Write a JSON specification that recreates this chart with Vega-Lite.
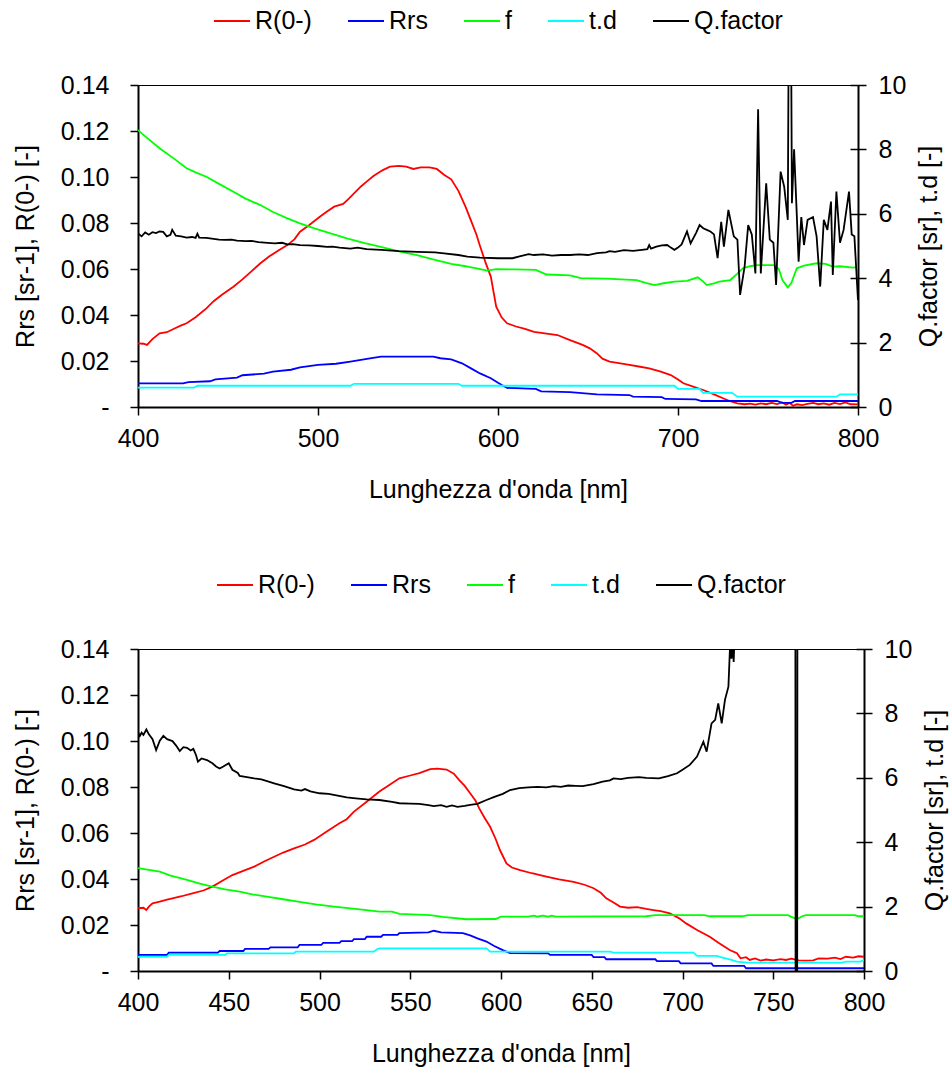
{
"$schema":"https://vega.github.io/schema/vega-lite/v6.json",
"padding":{"left":12,"top":1,"right":0,"bottom":0},
"datasets":{
"top":[
{"s":"R(0-)","x":400,"v":0.0277},{"s":"R(0-)","x":403,"v":0.0275},{"s":"R(0-)","x":405,"v":0.027},{"s":"R(0-)","x":408,"v":0.0295},{"s":"R(0-)","x":412,"v":0.032},{"s":"R(0-)","x":416,"v":0.0325},{"s":"R(0-)","x":420,"v":0.034},{"s":"R(0-)","x":424,"v":0.0355},{"s":"R(0-)","x":427,"v":0.0364},{"s":"R(0-)","x":432,"v":0.039},{"s":"R(0-)","x":438,"v":0.0429},{"s":"R(0-)","x":442,"v":0.046},{"s":"R(0-)","x":447,"v":0.049},{"s":"R(0-)","x":453,"v":0.0523},{"s":"R(0-)","x":458,"v":0.0555},{"s":"R(0-)","x":463,"v":0.059},{"s":"R(0-)","x":468,"v":0.0625},{"s":"R(0-)","x":473,"v":0.0655},{"s":"R(0-)","x":478,"v":0.068},{"s":"R(0-)","x":483,"v":0.0704},{"s":"R(0-)","x":487,"v":0.073},{"s":"R(0-)","x":490,"v":0.0762},{"s":"R(0-)","x":495,"v":0.079},{"s":"R(0-)","x":501,"v":0.0827},{"s":"R(0-)","x":505,"v":0.085},{"s":"R(0-)","x":509,"v":0.0871},{"s":"R(0-)","x":514,"v":0.0883},{"s":"R(0-)","x":517,"v":0.0905},{"s":"R(0-)","x":520,"v":0.0929},{"s":"R(0-)","x":524,"v":0.096},{"s":"R(0-)","x":527,"v":0.098},{"s":"R(0-)","x":531,"v":0.1005},{"s":"R(0-)","x":536,"v":0.103},{"s":"R(0-)","x":540,"v":0.1045},{"s":"R(0-)","x":545,"v":0.1048},{"s":"R(0-)","x":549,"v":0.1045},{"s":"R(0-)","x":553,"v":0.1035},{"s":"R(0-)","x":557,"v":0.1042},{"s":"R(0-)","x":562,"v":0.1042},{"s":"R(0-)","x":566,"v":0.1035},{"s":"R(0-)","x":570,"v":0.101},{"s":"R(0-)","x":574,"v":0.099},{"s":"R(0-)","x":578,"v":0.094},{"s":"R(0-)","x":582,"v":0.087},{"s":"R(0-)","x":585,"v":0.081},{"s":"R(0-)","x":588,"v":0.075},{"s":"R(0-)","x":590,"v":0.07},{"s":"R(0-)","x":593,"v":0.063},{"s":"R(0-)","x":596,"v":0.0567},{"s":"R(0-)","x":599,"v":0.0436},{"s":"R(0-)","x":602,"v":0.039},{"s":"R(0-)","x":605,"v":0.0364},{"s":"R(0-)","x":610,"v":0.035},{"s":"R(0-)","x":615,"v":0.034},{"s":"R(0-)","x":620,"v":0.0327},{"s":"R(0-)","x":626,"v":0.032},{"s":"R(0-)","x":633,"v":0.0313},{"s":"R(0-)","x":640,"v":0.0291},{"s":"R(0-)","x":647,"v":0.027},{"s":"R(0-)","x":651,"v":0.0255},{"s":"R(0-)","x":655,"v":0.0233},{"s":"R(0-)","x":658,"v":0.021},{"s":"R(0-)","x":662,"v":0.0197},{"s":"R(0-)","x":668,"v":0.019},{"s":"R(0-)","x":673,"v":0.0183},{"s":"R(0-)","x":679,"v":0.0175},{"s":"R(0-)","x":684,"v":0.0168},{"s":"R(0-)","x":690,"v":0.0155},{"s":"R(0-)","x":696,"v":0.0139},{"s":"R(0-)","x":700,"v":0.012},{"s":"R(0-)","x":703,"v":0.0103},{"s":"R(0-)","x":708,"v":0.009},{"s":"R(0-)","x":714,"v":0.0074},{"s":"R(0-)","x":720,"v":0.0055},{"s":"R(0-)","x":725,"v":0.0038},{"s":"R(0-)","x":729,"v":0.0025},{"s":"R(0-)","x":733,"v":0.0016},{"s":"R(0-)","x":737,"v":0.0012},{"s":"R(0-)","x":740,"v":0.0015},{"s":"R(0-)","x":743,"v":0.001},{"s":"R(0-)","x":746,"v":0.0016},{"s":"R(0-)","x":749,"v":0.0012},{"s":"R(0-)","x":752,"v":0.0018},{"s":"R(0-)","x":755,"v":0.0013},{"s":"R(0-)","x":758,"v":0.002},{"s":"R(0-)","x":760,"v":0.001},{"s":"R(0-)","x":762,"v":0.0018},{"s":"R(0-)","x":764,"v":0.0005},{"s":"R(0-)","x":766,"v":0.0012},{"s":"R(0-)","x":769,"v":0.0008},{"s":"R(0-)","x":772,"v":0.0014},{"s":"R(0-)","x":775,"v":0.0018},{"s":"R(0-)","x":778,"v":0.0012},{"s":"R(0-)","x":781,"v":0.0016},{"s":"R(0-)","x":784,"v":0.001},{"s":"R(0-)","x":787,"v":0.0018},{"s":"R(0-)","x":790,"v":0.0013},{"s":"R(0-)","x":793,"v":0.002},{"s":"R(0-)","x":796,"v":0.0012},{"s":"R(0-)","x":800,"v":0.0011},
{"s":"Rrs","x":400,"v":0.0103},{"s":"Rrs","x":425,"v":0.0103},{"s":"Rrs","x":428,"v":0.0108},{"s":"Rrs","x":440,"v":0.0112},{"s":"Rrs","x":443,"v":0.012},{"s":"Rrs","x":455,"v":0.0128},{"s":"Rrs","x":458,"v":0.0138},{"s":"Rrs","x":470,"v":0.0145},{"s":"Rrs","x":475,"v":0.0154},{"s":"Rrs","x":485,"v":0.0162},{"s":"Rrs","x":490,"v":0.0172},{"s":"Rrs","x":500,"v":0.0183},{"s":"Rrs","x":510,"v":0.0188},{"s":"Rrs","x":518,"v":0.0197},{"s":"Rrs","x":528,"v":0.021},{"s":"Rrs","x":535,"v":0.0219},{"s":"Rrs","x":564,"v":0.0219},{"s":"Rrs","x":568,"v":0.0212},{"s":"Rrs","x":574,"v":0.0207},{"s":"Rrs","x":580,"v":0.019},{"s":"Rrs","x":585,"v":0.0168},{"s":"Rrs","x":590,"v":0.0146},{"s":"Rrs","x":596,"v":0.0125},{"s":"Rrs","x":600,"v":0.0105},{"s":"Rrs","x":605,"v":0.0083},{"s":"Rrs","x":621,"v":0.0079},{"s":"Rrs","x":624,"v":0.0068},{"s":"Rrs","x":640,"v":0.0065},{"s":"Rrs","x":655,"v":0.0055},{"s":"Rrs","x":673,"v":0.0052},{"s":"Rrs","x":675,"v":0.0045},{"s":"Rrs","x":691,"v":0.0043},{"s":"Rrs","x":693,"v":0.0035},{"s":"Rrs","x":710,"v":0.0033},{"s":"Rrs","x":713,"v":0.0026},{"s":"Rrs","x":755,"v":0.0026},{"s":"Rrs","x":758,"v":0.0018},{"s":"Rrs","x":763,"v":0.0018},{"s":"Rrs","x":765,"v":0.0026},{"s":"Rrs","x":800,"v":0.0026},
{"s":"f","x":400,"v":0.1204},{"s":"f","x":405,"v":0.117},{"s":"f","x":412,"v":0.1125},{"s":"f","x":420,"v":0.108},{"s":"f","x":427,"v":0.1038},{"s":"f","x":432,"v":0.102},{"s":"f","x":438,"v":0.1001},{"s":"f","x":445,"v":0.097},{"s":"f","x":453,"v":0.0936},{"s":"f","x":460,"v":0.0905},{"s":"f","x":468,"v":0.0878},{"s":"f","x":475,"v":0.0848},{"s":"f","x":483,"v":0.082},{"s":"f","x":490,"v":0.0798},{"s":"f","x":498,"v":0.0777},{"s":"f","x":507,"v":0.0755},{"s":"f","x":516,"v":0.0733},{"s":"f","x":526,"v":0.0712},{"s":"f","x":536,"v":0.0694},{"s":"f","x":545,"v":0.0677},{"s":"f","x":555,"v":0.066},{"s":"f","x":565,"v":0.064},{"s":"f","x":574,"v":0.0622},{"s":"f","x":582,"v":0.0612},{"s":"f","x":590,"v":0.0599},{"s":"f","x":594,"v":0.0593},{"s":"f","x":599,"v":0.0599},{"s":"f","x":610,"v":0.0598},{"s":"f","x":621,"v":0.0596},{"s":"f","x":627,"v":0.0576},{"s":"f","x":640,"v":0.0572},{"s":"f","x":646,"v":0.056},{"s":"f","x":660,"v":0.0558},{"s":"f","x":677,"v":0.0552},{"s":"f","x":682,"v":0.054},{"s":"f","x":687,"v":0.053},{"s":"f","x":692,"v":0.0538},{"s":"f","x":698,"v":0.0545},{"s":"f","x":705,"v":0.0548},{"s":"f","x":711,"v":0.0564},{"s":"f","x":714,"v":0.0545},{"s":"f","x":716,"v":0.053},{"s":"f","x":720,"v":0.0538},{"s":"f","x":723,"v":0.0545},{"s":"f","x":729,"v":0.0552},{"s":"f","x":733,"v":0.058},{"s":"f","x":736,"v":0.0603},{"s":"f","x":740,"v":0.0612},{"s":"f","x":744,"v":0.0617},{"s":"f","x":753,"v":0.0617},{"s":"f","x":756,"v":0.06},{"s":"f","x":758,"v":0.0552},{"s":"f","x":761,"v":0.052},{"s":"f","x":763,"v":0.054},{"s":"f","x":766,"v":0.0603},{"s":"f","x":770,"v":0.0615},{"s":"f","x":777,"v":0.0625},{"s":"f","x":782,"v":0.0622},{"s":"f","x":786,"v":0.061},{"s":"f","x":790,"v":0.0612},{"s":"f","x":797,"v":0.0606},{"s":"f","x":800,"v":0.0608},
{"s":"t.d","x":400,"v":0.6},{"s":"t.d","x":431,"v":0.6},{"s":"t.d","x":433,"v":0.66},{"s":"t.d","x":518,"v":0.66},{"s":"t.d","x":520,"v":0.72},{"s":"t.d","x":578,"v":0.72},{"s":"t.d","x":580,"v":0.66},{"s":"t.d","x":698,"v":0.66},{"s":"t.d","x":700,"v":0.56},{"s":"t.d","x":712,"v":0.56},{"s":"t.d","x":714,"v":0.44},{"s":"t.d","x":730,"v":0.44},{"s":"t.d","x":733,"v":0.32},{"s":"t.d","x":788,"v":0.32},{"s":"t.d","x":790,"v":0.39},{"s":"t.d","x":800,"v":0.39},
{"s":"Q.factor","x":400,"v":5.39},{"s":"Q.factor","x":402,"v":5.3},{"s":"Q.factor","x":404,"v":5.42},{"s":"Q.factor","x":406,"v":5.35},{"s":"Q.factor","x":408,"v":5.43},{"s":"Q.factor","x":410,"v":5.4},{"s":"Q.factor","x":412,"v":5.45},{"s":"Q.factor","x":414,"v":5.44},{"s":"Q.factor","x":416,"v":5.3},{"s":"Q.factor","x":418,"v":5.35},{"s":"Q.factor","x":419,"v":5.5},{"s":"Q.factor","x":421,"v":5.32},{"s":"Q.factor","x":424,"v":5.3},{"s":"Q.factor","x":427,"v":5.26},{"s":"Q.factor","x":430,"v":5.28},{"s":"Q.factor","x":432,"v":5.25},{"s":"Q.factor","x":433,"v":5.38},{"s":"Q.factor","x":434,"v":5.26},{"s":"Q.factor","x":438,"v":5.25},{"s":"Q.factor","x":442,"v":5.22},{"s":"Q.factor","x":445,"v":5.2},{"s":"Q.factor","x":448,"v":5.19},{"s":"Q.factor","x":452,"v":5.2},{"s":"Q.factor","x":455,"v":5.17},{"s":"Q.factor","x":460,"v":5.15},{"s":"Q.factor","x":463,"v":5.16},{"s":"Q.factor","x":467,"v":5.12},{"s":"Q.factor","x":472,"v":5.1},{"s":"Q.factor","x":476,"v":5.08},{"s":"Q.factor","x":480,"v":5.1},{"s":"Q.factor","x":483,"v":5.05},{"s":"Q.factor","x":486,"v":5.06},{"s":"Q.factor","x":490,"v":5.03},{"s":"Q.factor","x":495,"v":5.02},{"s":"Q.factor","x":500,"v":5.0},{"s":"Q.factor","x":505,"v":4.97},{"s":"Q.factor","x":508,"v":4.98},{"s":"Q.factor","x":512,"v":4.95},{"s":"Q.factor","x":518,"v":4.92},{"s":"Q.factor","x":522,"v":4.95},{"s":"Q.factor","x":527,"v":4.9},{"s":"Q.factor","x":535,"v":4.88},{"s":"Q.factor","x":545,"v":4.84},{"s":"Q.factor","x":555,"v":4.82},{"s":"Q.factor","x":565,"v":4.8},{"s":"Q.factor","x":570,"v":4.77},{"s":"Q.factor","x":578,"v":4.72},{"s":"Q.factor","x":583,"v":4.67},{"s":"Q.factor","x":590,"v":4.64},{"s":"Q.factor","x":600,"v":4.62},{"s":"Q.factor","x":608,"v":4.62},{"s":"Q.factor","x":612,"v":4.68},{"s":"Q.factor","x":617,"v":4.75},{"s":"Q.factor","x":620,"v":4.72},{"s":"Q.factor","x":625,"v":4.74},{"s":"Q.factor","x":630,"v":4.7},{"s":"Q.factor","x":635,"v":4.72},{"s":"Q.factor","x":640,"v":4.72},{"s":"Q.factor","x":645,"v":4.74},{"s":"Q.factor","x":650,"v":4.72},{"s":"Q.factor","x":655,"v":4.78},{"s":"Q.factor","x":660,"v":4.8},{"s":"Q.factor","x":662,"v":4.84},{"s":"Q.factor","x":665,"v":4.82},{"s":"Q.factor","x":670,"v":4.87},{"s":"Q.factor","x":675,"v":4.85},{"s":"Q.factor","x":680,"v":4.88},{"s":"Q.factor","x":683,"v":4.9},{"s":"Q.factor","x":684,"v":5.03},{"s":"Q.factor","x":685,"v":4.92},{"s":"Q.factor","x":688,"v":4.98},{"s":"Q.factor","x":691,"v":5.02},{"s":"Q.factor","x":694,"v":5.03},{"s":"Q.factor","x":696,"v":4.95},{"s":"Q.factor","x":698,"v":4.88},{"s":"Q.factor","x":700,"v":4.95},{"s":"Q.factor","x":702,"v":5.05},{"s":"Q.factor","x":705,"v":5.45},{"s":"Q.factor","x":707,"v":5.08},{"s":"Q.factor","x":710,"v":5.4},{"s":"Q.factor","x":712,"v":5.65},{"s":"Q.factor","x":714,"v":5.55},{"s":"Q.factor","x":716,"v":5.5},{"s":"Q.factor","x":718,"v":5.45},{"s":"Q.factor","x":720,"v":5.36},{"s":"Q.factor","x":722,"v":4.62},{"s":"Q.factor","x":724,"v":5.75},{"s":"Q.factor","x":725.5,"v":4.98},{"s":"Q.factor","x":728,"v":6.12},{"s":"Q.factor","x":731,"v":5.3},{"s":"Q.factor","x":733,"v":5.2},{"s":"Q.factor","x":734.5,"v":3.48},{"s":"Q.factor","x":737,"v":4.36},{"s":"Q.factor","x":739,"v":5.65},{"s":"Q.factor","x":741,"v":5.36},{"s":"Q.factor","x":743,"v":4.15},{"s":"Q.factor","x":744.5,"v":9.25},{"s":"Q.factor","x":746,"v":4.15},{"s":"Q.factor","x":749,"v":6.95},{"s":"Q.factor","x":751,"v":5.2},{"s":"Q.factor","x":753,"v":5.1},{"s":"Q.factor","x":754.5,"v":3.79},{"s":"Q.factor","x":757,"v":7.31},{"s":"Q.factor","x":759,"v":6.84},{"s":"Q.factor","x":761,"v":5.81},{"s":"Q.factor","x":761.7,"v":14},{"s":"Q.factor","x":762.6,"v":14},{"s":"Q.factor","x":763.3,"v":6.33},{"s":"Q.factor","x":764.5,"v":8.0},{"s":"Q.factor","x":766,"v":5.96},{"s":"Q.factor","x":767,"v":4.51},{"s":"Q.factor","x":768.5,"v":5.9},{"s":"Q.factor","x":770,"v":5.03},{"s":"Q.factor","x":772,"v":5.81},{"s":"Q.factor","x":775,"v":5.9},{"s":"Q.factor","x":777,"v":5.3},{"s":"Q.factor","x":779,"v":3.74},{"s":"Q.factor","x":781,"v":5.81},{"s":"Q.factor","x":783,"v":5.5},{"s":"Q.factor","x":785,"v":6.38},{"s":"Q.factor","x":786,"v":4.1},{"s":"Q.factor","x":788,"v":6.69},{"s":"Q.factor","x":790,"v":5.1},{"s":"Q.factor","x":792,"v":5.5},{"s":"Q.factor","x":795,"v":6.69},{"s":"Q.factor","x":796.5,"v":5.36},{"s":"Q.factor","x":798,"v":5.3},{"s":"Q.factor","x":800,"v":3.32}
],
"bot":[
{"s":"R(0-)","x":400,"v":0.0273},{"s":"R(0-)","x":403,"v":0.0275},{"s":"R(0-)","x":404.6,"v":0.0265},{"s":"R(0-)","x":406,"v":0.028},{"s":"R(0-)","x":408,"v":0.0294},{"s":"R(0-)","x":412,"v":0.0302},{"s":"R(0-)","x":416,"v":0.031},{"s":"R(0-)","x":419,"v":0.0316},{"s":"R(0-)","x":424,"v":0.0325},{"s":"R(0-)","x":430,"v":0.0338},{"s":"R(0-)","x":436,"v":0.035},{"s":"R(0-)","x":441,"v":0.0367},{"s":"R(0-)","x":446,"v":0.039},{"s":"R(0-)","x":452,"v":0.0417},{"s":"R(0-)","x":458,"v":0.0435},{"s":"R(0-)","x":464,"v":0.0454},{"s":"R(0-)","x":470,"v":0.0478},{"s":"R(0-)","x":475,"v":0.0497},{"s":"R(0-)","x":480,"v":0.0515},{"s":"R(0-)","x":486,"v":0.0533},{"s":"R(0-)","x":492,"v":0.055},{"s":"R(0-)","x":497,"v":0.057},{"s":"R(0-)","x":504,"v":0.0606},{"s":"R(0-)","x":511,"v":0.0642},{"s":"R(0-)","x":515,"v":0.066},{"s":"R(0-)","x":519,"v":0.0693},{"s":"R(0-)","x":526,"v":0.0736},{"s":"R(0-)","x":533,"v":0.078},{"s":"R(0-)","x":537,"v":0.0801},{"s":"R(0-)","x":544,"v":0.0838},{"s":"R(0-)","x":550,"v":0.085},{"s":"R(0-)","x":555,"v":0.086},{"s":"R(0-)","x":561,"v":0.0878},{"s":"R(0-)","x":565,"v":0.088},{"s":"R(0-)","x":570,"v":0.0876},{"s":"R(0-)","x":574,"v":0.0858},{"s":"R(0-)","x":577,"v":0.083},{"s":"R(0-)","x":580,"v":0.0805},{"s":"R(0-)","x":583,"v":0.0773},{"s":"R(0-)","x":586,"v":0.074},{"s":"R(0-)","x":588,"v":0.0707},{"s":"R(0-)","x":591,"v":0.0665},{"s":"R(0-)","x":594,"v":0.0627},{"s":"R(0-)","x":597,"v":0.0575},{"s":"R(0-)","x":599.4,"v":0.0526},{"s":"R(0-)","x":603,"v":0.0468},{"s":"R(0-)","x":606,"v":0.045},{"s":"R(0-)","x":610.5,"v":0.0439},{"s":"R(0-)","x":617,"v":0.0425},{"s":"R(0-)","x":625,"v":0.041},{"s":"R(0-)","x":632,"v":0.0398},{"s":"R(0-)","x":640,"v":0.0388},{"s":"R(0-)","x":646,"v":0.0375},{"s":"R(0-)","x":651,"v":0.036},{"s":"R(0-)","x":655,"v":0.034},{"s":"R(0-)","x":658,"v":0.0316},{"s":"R(0-)","x":662,"v":0.0298},{"s":"R(0-)","x":665.6,"v":0.028},{"s":"R(0-)","x":670,"v":0.0275},{"s":"R(0-)","x":675,"v":0.0278},{"s":"R(0-)","x":680,"v":0.027},{"s":"R(0-)","x":684,"v":0.0265},{"s":"R(0-)","x":688,"v":0.026},{"s":"R(0-)","x":693,"v":0.0251},{"s":"R(0-)","x":698,"v":0.023},{"s":"R(0-)","x":702,"v":0.0207},{"s":"R(0-)","x":708,"v":0.0178},{"s":"R(0-)","x":715,"v":0.0149},{"s":"R(0-)","x":720,"v":0.0122},{"s":"R(0-)","x":726,"v":0.0091},{"s":"R(0-)","x":730,"v":0.0077},{"s":"R(0-)","x":732,"v":0.0055},{"s":"R(0-)","x":735,"v":0.006},{"s":"R(0-)","x":737,"v":0.0048},{"s":"R(0-)","x":740,"v":0.0055},{"s":"R(0-)","x":743,"v":0.0045},{"s":"R(0-)","x":746,"v":0.005},{"s":"R(0-)","x":750,"v":0.0046},{"s":"R(0-)","x":754,"v":0.0052},{"s":"R(0-)","x":757,"v":0.0048},{"s":"R(0-)","x":760,"v":0.0054},{"s":"R(0-)","x":764,"v":0.0046},{"s":"R(0-)","x":768,"v":0.0045},{"s":"R(0-)","x":772,"v":0.0046},{"s":"R(0-)","x":775,"v":0.0055},{"s":"R(0-)","x":780,"v":0.0054},{"s":"R(0-)","x":784,"v":0.0058},{"s":"R(0-)","x":787,"v":0.0052},{"s":"R(0-)","x":790,"v":0.0062},{"s":"R(0-)","x":794,"v":0.0058},{"s":"R(0-)","x":797,"v":0.0064},{"s":"R(0-)","x":800,"v":0.0062},
{"s":"Rrs","x":400,"v":0.007},{"s":"Rrs","x":416,"v":0.007},{"s":"Rrs","x":417,"v":0.008},{"s":"Rrs","x":444,"v":0.008},{"s":"Rrs","x":445,"v":0.0087},{"s":"Rrs","x":458,"v":0.0087},{"s":"Rrs","x":459,"v":0.0096},{"s":"Rrs","x":472,"v":0.0096},{"s":"Rrs","x":473,"v":0.0103},{"s":"Rrs","x":488,"v":0.0103},{"s":"Rrs","x":489,"v":0.0114},{"s":"Rrs","x":501,"v":0.0114},{"s":"Rrs","x":502,"v":0.0122},{"s":"Rrs","x":511,"v":0.0122},{"s":"Rrs","x":512,"v":0.013},{"s":"Rrs","x":518,"v":0.013},{"s":"Rrs","x":519,"v":0.0139},{"s":"Rrs","x":525,"v":0.0139},{"s":"Rrs","x":526,"v":0.0149},{"s":"Rrs","x":534,"v":0.0149},{"s":"Rrs","x":535,"v":0.0157},{"s":"Rrs","x":543,"v":0.0157},{"s":"Rrs","x":544,"v":0.0165},{"s":"Rrs","x":560,"v":0.0168},{"s":"Rrs","x":563,"v":0.0175},{"s":"Rrs","x":567,"v":0.0168},{"s":"Rrs","x":579,"v":0.0165},{"s":"Rrs","x":583,"v":0.0155},{"s":"Rrs","x":587,"v":0.0142},{"s":"Rrs","x":592,"v":0.0128},{"s":"Rrs","x":596,"v":0.011},{"s":"Rrs","x":601,"v":0.0091},{"s":"Rrs","x":605,"v":0.0078},{"s":"Rrs","x":626,"v":0.0077},{"s":"Rrs","x":627,"v":0.007},{"s":"Rrs","x":650,"v":0.007},{"s":"Rrs","x":651,"v":0.006},{"s":"Rrs","x":657,"v":0.006},{"s":"Rrs","x":658,"v":0.0051},{"s":"Rrs","x":685,"v":0.0051},{"s":"Rrs","x":686,"v":0.0043},{"s":"Rrs","x":698,"v":0.0043},{"s":"Rrs","x":699,"v":0.0033},{"s":"Rrs","x":716,"v":0.0033},{"s":"Rrs","x":717,"v":0.0022},{"s":"Rrs","x":734,"v":0.0022},{"s":"Rrs","x":735,"v":0.0012},{"s":"Rrs","x":800,"v":0.0012},
{"s":"f","x":400,"v":0.0447},{"s":"f","x":406,"v":0.044},{"s":"f","x":412,"v":0.0432},{"s":"f","x":418,"v":0.0415},{"s":"f","x":427,"v":0.0396},{"s":"f","x":434,"v":0.038},{"s":"f","x":441,"v":0.0367},{"s":"f","x":448,"v":0.0355},{"s":"f","x":456,"v":0.0345},{"s":"f","x":463,"v":0.0333},{"s":"f","x":471,"v":0.0323},{"s":"f","x":480,"v":0.0312},{"s":"f","x":489,"v":0.0301},{"s":"f","x":498,"v":0.029},{"s":"f","x":508,"v":0.028},{"s":"f","x":517,"v":0.0272},{"s":"f","x":526,"v":0.0265},{"s":"f","x":533,"v":0.0258},{"s":"f","x":540,"v":0.0258},{"s":"f","x":544,"v":0.0248},{"s":"f","x":561,"v":0.0243},{"s":"f","x":568,"v":0.0235},{"s":"f","x":581,"v":0.0225},{"s":"f","x":597,"v":0.0226},{"s":"f","x":600,"v":0.0236},{"s":"f","x":615,"v":0.0236},{"s":"f","x":618,"v":0.0241},{"s":"f","x":620,"v":0.0236},{"s":"f","x":623,"v":0.0241},{"s":"f","x":626,"v":0.0236},{"s":"f","x":628,"v":0.0241},{"s":"f","x":630,"v":0.0236},{"s":"f","x":680,"v":0.0238},{"s":"f","x":685,"v":0.0243},{"s":"f","x":712,"v":0.0243},{"s":"f","x":715,"v":0.0238},{"s":"f","x":733,"v":0.0238},{"s":"f","x":736,"v":0.0243},{"s":"f","x":758,"v":0.0243},{"s":"f","x":761,"v":0.0232},{"s":"f","x":763,"v":0.0225},{"s":"f","x":766,"v":0.0238},{"s":"f","x":768,"v":0.0243},{"s":"f","x":795,"v":0.0243},{"s":"f","x":797,"v":0.0238},{"s":"f","x":800,"v":0.0238},
{"s":"t.d","x":400,"v":0.44},{"s":"t.d","x":416,"v":0.44},{"s":"t.d","x":417,"v":0.5},{"s":"t.d","x":448,"v":0.5},{"s":"t.d","x":449,"v":0.55},{"s":"t.d","x":486,"v":0.55},{"s":"t.d","x":487,"v":0.6},{"s":"t.d","x":530,"v":0.6},{"s":"t.d","x":531.5,"v":0.67},{"s":"t.d","x":533,"v":0.705},{"s":"t.d","x":592,"v":0.705},{"s":"t.d","x":594,"v":0.6},{"s":"t.d","x":660,"v":0.6},{"s":"t.d","x":662,"v":0.57},{"s":"t.d","x":706,"v":0.57},{"s":"t.d","x":708,"v":0.47},{"s":"t.d","x":719,"v":0.47},{"s":"t.d","x":721,"v":0.43},{"s":"t.d","x":726,"v":0.36},{"s":"t.d","x":730,"v":0.29},{"s":"t.d","x":735.5,"v":0.26},{"s":"t.d","x":788,"v":0.26},{"s":"t.d","x":790,"v":0.29},{"s":"t.d","x":798,"v":0.29},{"s":"t.d","x":800,"v":0.34},
{"s":"Q.factor","x":400,"v":7.43},{"s":"Q.factor","x":401,"v":7.3},{"s":"Q.factor","x":402,"v":7.4},{"s":"Q.factor","x":403,"v":7.33},{"s":"Q.factor","x":404.6,"v":7.5},{"s":"Q.factor","x":406,"v":7.35},{"s":"Q.factor","x":408,"v":7.2},{"s":"Q.factor","x":410,"v":6.86},{"s":"Q.factor","x":412,"v":7.15},{"s":"Q.factor","x":414,"v":7.3},{"s":"Q.factor","x":416,"v":7.2},{"s":"Q.factor","x":419,"v":7.14},{"s":"Q.factor","x":421,"v":7.0},{"s":"Q.factor","x":423,"v":6.83},{"s":"Q.factor","x":425,"v":6.95},{"s":"Q.factor","x":427,"v":6.93},{"s":"Q.factor","x":429,"v":6.85},{"s":"Q.factor","x":430.5,"v":6.9},{"s":"Q.factor","x":432,"v":6.7},{"s":"Q.factor","x":433,"v":6.5},{"s":"Q.factor","x":435,"v":6.6},{"s":"Q.factor","x":438,"v":6.55},{"s":"Q.factor","x":441,"v":6.45},{"s":"Q.factor","x":443,"v":6.35},{"s":"Q.factor","x":445,"v":6.29},{"s":"Q.factor","x":447,"v":6.35},{"s":"Q.factor","x":450,"v":6.45},{"s":"Q.factor","x":452,"v":6.25},{"s":"Q.factor","x":455,"v":6.15},{"s":"Q.factor","x":456,"v":6.06},{"s":"Q.factor","x":460,"v":6.02},{"s":"Q.factor","x":464,"v":5.98},{"s":"Q.factor","x":468,"v":5.95},{"s":"Q.factor","x":472,"v":5.88},{"s":"Q.factor","x":475,"v":5.83},{"s":"Q.factor","x":480,"v":5.75},{"s":"Q.factor","x":486,"v":5.64},{"s":"Q.factor","x":490,"v":5.6},{"s":"Q.factor","x":492,"v":5.65},{"s":"Q.factor","x":495,"v":5.58},{"s":"Q.factor","x":500,"v":5.52},{"s":"Q.factor","x":505,"v":5.5},{"s":"Q.factor","x":510,"v":5.45},{"s":"Q.factor","x":515,"v":5.39},{"s":"Q.factor","x":520,"v":5.36},{"s":"Q.factor","x":526,"v":5.33},{"s":"Q.factor","x":533,"v":5.31},{"s":"Q.factor","x":540,"v":5.25},{"s":"Q.factor","x":544,"v":5.21},{"s":"Q.factor","x":550,"v":5.2},{"s":"Q.factor","x":555,"v":5.19},{"s":"Q.factor","x":560,"v":5.15},{"s":"Q.factor","x":563,"v":5.12},{"s":"Q.factor","x":567,"v":5.15},{"s":"Q.factor","x":570,"v":5.1},{"s":"Q.factor","x":573,"v":5.14},{"s":"Q.factor","x":576,"v":5.1},{"s":"Q.factor","x":580,"v":5.13},{"s":"Q.factor","x":583,"v":5.16},{"s":"Q.factor","x":587,"v":5.19},{"s":"Q.factor","x":592,"v":5.31},{"s":"Q.factor","x":596,"v":5.4},{"s":"Q.factor","x":601,"v":5.5},{"s":"Q.factor","x":605,"v":5.62},{"s":"Q.factor","x":610,"v":5.68},{"s":"Q.factor","x":615,"v":5.7},{"s":"Q.factor","x":620,"v":5.72},{"s":"Q.factor","x":625,"v":5.7},{"s":"Q.factor","x":629,"v":5.74},{"s":"Q.factor","x":633,"v":5.72},{"s":"Q.factor","x":637,"v":5.76},{"s":"Q.factor","x":641,"v":5.75},{"s":"Q.factor","x":645,"v":5.74},{"s":"Q.factor","x":651,"v":5.8},{"s":"Q.factor","x":656,"v":5.88},{"s":"Q.factor","x":660,"v":5.92},{"s":"Q.factor","x":662,"v":5.98},{"s":"Q.factor","x":666,"v":5.96},{"s":"Q.factor","x":670,"v":6.0},{"s":"Q.factor","x":676,"v":6.02},{"s":"Q.factor","x":680,"v":6.0},{"s":"Q.factor","x":687,"v":5.98},{"s":"Q.factor","x":692,"v":6.05},{"s":"Q.factor","x":697,"v":6.14},{"s":"Q.factor","x":700,"v":6.25},{"s":"Q.factor","x":704,"v":6.4},{"s":"Q.factor","x":708,"v":6.66},{"s":"Q.factor","x":711.5,"v":7.12},{"s":"Q.factor","x":713.3,"v":6.81},{"s":"Q.factor","x":716,"v":7.69},{"s":"Q.factor","x":718,"v":7.8},{"s":"Q.factor","x":719.7,"v":8.31},{"s":"Q.factor","x":721.6,"v":7.69},{"s":"Q.factor","x":723.4,"v":8.42},{"s":"Q.factor","x":725.3,"v":8.83},{"s":"Q.factor","x":726.2,"v":10.1},{"s":"Q.factor","x":727,"v":9.7},{"s":"Q.factor","x":727.6,"v":10.3},{"s":"Q.factor","x":728.2,"v":9.6},{"s":"Q.factor","x":729,"v":11},{"s":"Q.factor","x":731,"v":13},{"s":"Q.factor","x":735,"v":15},{"s":"Q.factor","x":740,"v":18},{"s":"Q.factor","x":750,"v":22},{"s":"Q.factor","x":760,"v":25},{"s":"Q.factor","x":762,"v":30},{"s":"Q.factor","x":762.6,"v":-30},{"s":"Q.factor","x":762.9,"v":-30},{"s":"Q.factor","x":763.5,"v":30},{"s":"Q.factor","x":770,"v":25},{"s":"Q.factor","x":780,"v":25},{"s":"Q.factor","x":790,"v":25},{"s":"Q.factor","x":800,"v":25}
]
},
"vconcat":[
{
"width":720,"height":322,
"data":{"name":"top"},
"layer":[
{"transform":[{"filter":"datum.s=='R(0-)'||datum.s=='Rrs'||datum.s=='f'"}],
"mark":{"type":"line","strokeWidth":1.8,"clip":true},
"encoding":{
"x":{"field":"x","type":"quantitative","scale":{"domain":[400,800],"nice":false},"axis":{"title":"Lunghezza d'onda [nm]","values":[400,500,600,700,800],"labelFlush":false,"labelPadding":11,"titlePadding":26}},
"y":{"field":"v","type":"quantitative","scale":{"domain":[0,0.14],"nice":false},"axis":{"orient":"left","title":"Rrs [sr-1], R(0-) [-]","values":[0,0.02,0.04,0.06,0.08,0.1,0.12,0.14],"labelExpr":"datum.value==0?'-':format(datum.value,'.2f')","labelPadding":21,"titlePadding":22}},
"color":{"field":"s","type":"nominal","scale":{"domain":["R(0-)","Rrs","f","t.d","Q.factor"],"range":["#ff0000","#0000ff","#00ff00","#00ffff","#000000"]},"legend":{"orient":"none","legendX":75,"legendY":-83,"direction":"horizontal","title":null,"symbolType":"stroke","symbolSize":1296,"symbolStrokeWidth":2,"labelFontSize":25,"labelOffset":4,"columnPadding":32,"labelColor":"black"}}
}},
{"transform":[{"filter":"datum.s=='t.d'||datum.s=='Q.factor'"}],
"mark":{"type":"line","strokeWidth":1.8,"clip":true},
"encoding":{
"x":{"field":"x","type":"quantitative","scale":{"domain":[400,800],"nice":false},"axis":{"title":"Lunghezza d'onda [nm]","values":[400,500,600,700,800],"labelFlush":false,"labelPadding":11,"titlePadding":26}},
"y":{"field":"v","type":"quantitative","scale":{"domain":[0,10],"nice":false},"axis":{"orient":"right","title":"Q.factor [sr], t.d [-]","values":[0,2,4,6,8,10],"labelPadding":12,"titlePadding":11,"titleAngle":270,"titleBaseline":"top"}},
"color":{"field":"s","type":"nominal","scale":{"domain":["R(0-)","Rrs","f","t.d","Q.factor"],"range":["#ff0000","#0000ff","#00ff00","#00ffff","#000000"]},"legend":{"orient":"none","legendX":75,"legendY":-83,"direction":"horizontal","title":null,"symbolType":"stroke","symbolSize":1296,"symbolStrokeWidth":2,"labelFontSize":25,"labelOffset":4,"columnPadding":32,"labelColor":"black"}}
}},
{"transform":[{"filter":"false"}],
"mark":{"type":"line"},
"encoding":{
"x":{"field":"x","type":"quantitative","scale":{"domain":[400,800],"nice":false},"axis":{"title":"Lunghezza d'onda [nm]","values":[400,500,600,700,800],"labelFlush":false,"labelPadding":11,"titlePadding":26}},
"y":{"field":"v","type":"quantitative","scale":{"domain":[0,10],"nice":false},"axis":{"orient":"right","title":null,"values":[0,2,4,6,8,10],"labels":false,"domain":false,"tickSize":-8}}
}}
],
"resolve":{"scale":{"y":"independent"}}
},
{
"width":726,"height":322,
"data":{"name":"bot"},
"layer":[
{"transform":[{"filter":"datum.s=='R(0-)'||datum.s=='Rrs'||datum.s=='f'"}],
"mark":{"type":"line","strokeWidth":1.8,"clip":true},
"encoding":{
"x":{"field":"x","type":"quantitative","scale":{"domain":[400,800],"nice":false},"axis":{"title":"Lunghezza d'onda [nm]","values":[400,450,500,550,600,650,700,750,800],"labelFlush":false,"labelPadding":11,"titlePadding":26}},
"y":{"field":"v","type":"quantitative","scale":{"domain":[0,0.14],"nice":false},"axis":{"orient":"left","title":"Rrs [sr-1], R(0-) [-]","values":[0,0.02,0.04,0.06,0.08,0.1,0.12,0.14],"labelExpr":"datum.value==0?'-':format(datum.value,'.2f')","labelPadding":21,"titlePadding":22}},
"color":{"field":"s","type":"nominal","scale":{"domain":["R(0-)","Rrs","f","t.d","Q.factor"],"range":["#ff0000","#0000ff","#00ff00","#00ffff","#000000"]},"legend":{"orient":"none","legendX":78,"legendY":-83,"direction":"horizontal","title":null,"symbolType":"stroke","symbolSize":1296,"symbolStrokeWidth":2,"labelFontSize":25,"labelOffset":4,"columnPadding":32,"labelColor":"black"}}
}},
{"transform":[{"filter":"datum.s=='t.d'||datum.s=='Q.factor'"}],
"mark":{"type":"line","strokeWidth":1.8,"clip":true},
"encoding":{
"x":{"field":"x","type":"quantitative","scale":{"domain":[400,800],"nice":false},"axis":{"title":"Lunghezza d'onda [nm]","values":[400,450,500,550,600,650,700,750,800],"labelFlush":false,"labelPadding":11,"titlePadding":26}},
"y":{"field":"v","type":"quantitative","scale":{"domain":[0,10],"nice":false},"axis":{"orient":"right","title":"Q.factor [sr], t.d [-]","values":[0,2,4,6,8,10],"labelPadding":12,"titlePadding":11,"titleAngle":270,"titleBaseline":"top"}},
"color":{"field":"s","type":"nominal","scale":{"domain":["R(0-)","Rrs","f","t.d","Q.factor"],"range":["#ff0000","#0000ff","#00ff00","#00ffff","#000000"]},"legend":{"orient":"none","legendX":78,"legendY":-83,"direction":"horizontal","title":null,"symbolType":"stroke","symbolSize":1296,"symbolStrokeWidth":2,"labelFontSize":25,"labelOffset":4,"columnPadding":32,"labelColor":"black"}}
}},
{"transform":[{"filter":"false"}],
"mark":{"type":"line"},
"encoding":{
"x":{"field":"x","type":"quantitative","scale":{"domain":[400,800],"nice":false},"axis":{"title":"Lunghezza d'onda [nm]","values":[400,450,500,550,600,650,700,750,800],"labelFlush":false,"labelPadding":11,"titlePadding":26}},
"y":{"field":"v","type":"quantitative","scale":{"domain":[0,10],"nice":false},"axis":{"orient":"right","title":null,"values":[0,2,4,6,8,10],"labels":false,"domain":false,"tickSize":-8}}
}}
],
"resolve":{"scale":{"y":"independent"}}
}
],
"spacing":62,
"resolve":{"scale":{"color":"independent"}},
"config":{
"font":"Liberation Sans",
"background":"white",
"view":{"stroke":"black","strokeWidth":1},
"axis":{"grid":false,"domainColor":"black","domainWidth":2,"tickColor":"black","tickWidth":1.5,"tickSize":8,"labelFontSize":25,"titleFontSize":25,"titleFontWeight":"normal","labelColor":"black","titleColor":"black","labelFont":"Liberation Sans","titleFont":"Liberation Sans"},
"legend":{"labelFont":"Liberation Sans"}
}
}
